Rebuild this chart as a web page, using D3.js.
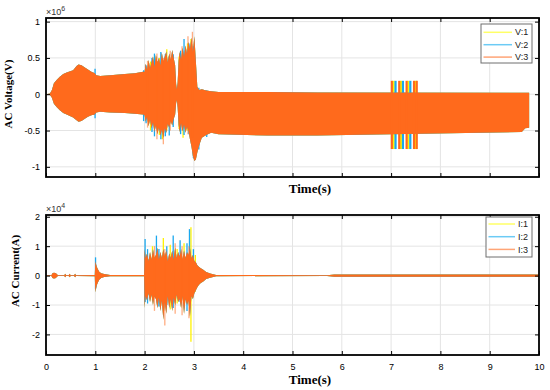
<!DOCTYPE html>
<html>
<head>
<meta charset="utf-8">
<script src="https://cdn.jsdelivr.net/npm/d3@7"></script>
<style>
  body { margin: 0; background: #fff; }
  svg { display: block; }
</style>
</head>
<body>
<div id="chart"></div>
<script>
// ---------- data (voltage in 1e6 V, current in 1e4 A) ----------
const xTicks = [0, 1, 2, 3, 4, 5, 6, 7, 8, 9, 10];
const vTicks = [-1, -0.5, 0, 0.5, 1];
const iTicks = [-2, -1, 0, 1, 2];
const vNames = ["V:1", "V:2", "V:3"];
const iNames = ["I:1", "I:2", "I:3"];

// voltage envelope shared by the three phases
const vBandT = [0, 0.08, 0.12, 0.16, 0.22, 0.28, 0.35, 0.42, 0.55, 0.62, 0.66, 0.72, 0.78, 0.85, 0.92, 0.99, 1.02, 1.1, 1.3, 1.6, 1.8, 1.97,
  2.00, 2.02, 2.05, 2.08, 2.11, 2.14, 2.17, 2.20, 2.23, 2.26, 2.29, 2.32, 2.35, 2.38, 2.41, 2.44, 2.47, 2.50, 2.53, 2.56, 2.59, 2.62, 2.64,
  2.655, 2.67, 2.69, 2.71, 2.74, 2.77, 2.80, 2.83, 2.86, 2.89, 2.92, 2.95, 2.98, 3.01, 3.04, 3.07, 3.11, 3.16, 3.25, 3.35, 3.5,
  4.5, 5.5, 9.65, 9.72, 9.8, 10];
const vBandHi = [0, 0.01, 0.06, 0.15, 0.2, 0.24, 0.28, 0.3, 0.33, 0.39, 0.41, 0.4, 0.37, 0.34, 0.31, 0.29, 0.26, 0.25, 0.26, 0.28, 0.29, 0.31,
  0.31, 0.42, 0.33, 0.47, 0.36, 0.44, 0.52, 0.38, 0.54, 0.44, 0.50, 0.40, 0.57, 0.45, 0.52, 0.59, 0.44, 0.56, 0.47, 0.61, 0.50, 0.40, 0.14,
  0.07, 0.16, 0.45, 0.58, 0.48, 0.64, 0.52, 0.67, 0.56, 0.72, 0.62, 0.78, 0.58, 0.80, 0.45, 0.10, 0.06, 0.07, 0.05, 0.04, 0.03, 0.03,
  0.025, 0.02, 0.02, 0.02, 0.02, 0.02];
const vBandLo = [0, -0.01, -0.05, -0.13, -0.18, -0.22, -0.26, -0.28, -0.32, -0.36, -0.38, -0.37, -0.34, -0.31, -0.29, -0.28, -0.25, -0.24, -0.25, -0.26, -0.27, -0.28,
  -0.29, -0.38, -0.31, -0.44, -0.35, -0.47, -0.39, -0.52, -0.43, -0.55, -0.46, -0.57, -0.49, -0.60, -0.47, -0.53, -0.41, -0.46, -0.37, -0.43, -0.34, -0.28, -0.12,
  -0.08, -0.18, -0.42, -0.52, -0.40, -0.51, -0.42, -0.53, -0.45, -0.50, -0.62, -0.72, -0.85, -0.92, -0.90, -0.80, -0.70, -0.60, -0.56, -0.53,
  -0.55, -0.57, -0.57, -0.52, -0.47, -0.46];

// individual voltage peaks [t, max, min]
const v1Spikes = [[2.12, 0.45, -0.50], [2.30, 0.50, -0.56], [2.36, 0.48, -0.62], [2.45, 0.62, -0.50], [2.70, 0.52, -0.48],
  [2.78, 0.55, -0.60], [2.87, 0.70, -0.50], [2.94, 0.76, -0.60]];
const v2Spikes = [[0.995, 0.35, -0.33], [1.98, 0.33, -0.37], [2.03, 0.40, -0.40], [2.15, 0.50, -0.52], [2.20, 0.56, -0.58],
  [2.33, 0.58, -0.62], [2.42, 0.55, -0.58], [2.50, 0.52, -0.57], [2.58, 0.55, -0.45], [2.73, 0.60, -0.55], [2.80, 0.76, -0.56],
  [2.90, 0.70, -0.55], [2.99, 0.66, -0.88], [3.10, 0.09, -0.76], [3.26, 0.05, -0.59]];
const v3Spikes = [[2.06, 0.46, -0.46], [2.25, 0.56, -0.62], [2.38, 0.50, -0.69], [2.52, 0.60, -0.50], [2.76, 0.66, -0.50],
  [2.88, 0.80, -0.55], [2.97, 0.86, -0.60]];

// fault window 7.0 s - 7.5 s
const vWindowHi = 0.185, vWindowLo = -0.755;
const v1WindowT = [7.05, 7.20, 7.35, 7.50];
const v2WindowT = [7.09, 7.24, 7.39];
const v3WindowT = [7.015, 7.165, 7.315, 7.465, 7.52];

// current envelope shared by the three phases
const iBandT = [0, 0.11, 0.13, 0.16, 0.19, 0.22, 0.24, 0.37, 0.39, 0.41, 0.46, 0.48, 0.50, 0.57, 0.59, 0.61, 0.99, 1.00, 1.01, 1.03, 1.05, 1.08, 1.12, 1.18, 1.3, 1.99,
  2.00, 2.02, 2.05, 2.08, 2.11, 2.14, 2.17, 2.20, 2.23, 2.26, 2.29, 2.32, 2.35, 2.38, 2.41, 2.44, 2.47, 2.50, 2.53, 2.56, 2.59, 2.62, 2.65,
  2.68, 2.71, 2.74, 2.77, 2.80, 2.83, 2.86, 2.89, 2.92, 2.95, 2.98, 3.01, 3.04, 3.07, 3.10, 3.14, 3.19, 3.25, 3.33, 3.45,
  5.7, 5.85, 10];
const iBandHi = [0.015, 0.015, 0.08, 0.1, 0.09, 0.05, 0.015, 0.015, 0.06, 0.015, 0.015, 0.06, 0.015, 0.015, 0.06, 0.015, 0.02, 0.50, 0.42, 0.30, 0.22, 0.13, 0.08, 0.05, 0.02, 0.02,
  0.90, 0.60, 0.75, 0.50, 0.80, 0.55, 0.90, 0.60, 0.70, 0.95, 0.55, 0.80, 0.60, 0.90, 0.65, 0.85, 0.50, 0.75, 0.60, 0.85, 0.55, 0.95, 0.60,
  0.80, 0.65, 0.90, 0.55, 0.85, 0.60, 0.80, 0.70, 0.95, 0.60, 0.70, 0.50, 0.45, 0.35, 0.30, 0.25, 0.20, 0.12, 0.07, 0.02,
  0.015, 0.04, 0.04];
const iBandLo = [-0.015, -0.015, -0.08, -0.1, -0.09, -0.05, -0.015, -0.015, -0.06, -0.015, -0.015, -0.06, -0.015, -0.015, -0.06, -0.015, -0.02, -0.57, -0.48, -0.33, -0.24, -0.14, -0.08, -0.05, -0.02, -0.02,
  -1.10, -0.70, -0.85, -0.60, -0.90, -0.65, -1.00, -0.70, -0.80, -1.10, -0.75, -1.20, -0.85, -1.50, -0.90, -1.30, -0.70, -1.10, -0.80, -1.20, -0.75, -1.00, -0.65,
  -0.90, -0.80, -1.10, -0.70, -1.30, -0.80, -1.00, -0.85, -1.40, -0.70, -0.80, -0.60, -0.50, -0.40, -0.32, -0.25, -0.20, -0.12, -0.07, -0.02,
  -0.015, -0.04, -0.04];

const i1Spikes = [[2.16, 1.00, -0.85], [2.38, 1.28, -0.80], [2.52, 1.05, -1.15], [2.66, 0.90, -0.95], [2.80, 1.10, -1.00], [2.94, 1.64, -2.25], [3.03, 0.70, -0.55]];
const i2Spikes = [[1.005, 0.62, -0.45], [2.01, 1.24, -0.90], [2.06, 0.90, -0.95], [2.24, 1.36, -0.80], [2.29, 0.90, -1.05], [2.45, 1.00, -1.00],
  [2.58, 1.36, -1.10], [2.72, 1.20, -0.90], [2.86, 1.10, -1.20], [2.91, 1.58, -0.90], [2.99, 0.90, -0.60]];
const i3Spikes = [[2.20, 1.00, -1.20], [2.41, 0.90, -1.70], [2.62, 1.10, -1.30], [2.76, 1.00, -1.35], [2.90, 1.00, -1.45]];

// ---------- style ----------
const phaseColors = ["#FFF200", "#1BA8EE", "#FF6A1C"];
const legendColors = ["#FFFF66", "#6CCBF5", "#FFA577"];
const gridColor = "#e4e4e4";
const tickFont = "'Liberation Sans', Arial, sans-serif";
const titleFont = "'Liberation Serif', 'Times New Roman', serif";

const width = 550, height = 390;
const svg = d3.select("#chart").append("svg")
  .attr("width", width)
  .attr("height", height);

function drawPanel(p) {
  const g = svg.append("g");
  const x = d3.scaleLinear().domain([0, 10]).range([p.left, p.right]);
  const y = d3.scaleLinear().domain(p.domain).range([p.bottom, p.top]);

  // grid
  g.append("g").selectAll("line").data(xTicks).join("line")
    .attr("x1", d => x(d)).attr("x2", d => x(d))
    .attr("y1", p.top).attr("y2", p.bottom)
    .attr("stroke", gridColor);
  g.append("g").selectAll("line").data(p.yTicks).join("line")
    .attr("x1", p.left).attr("x2", p.right)
    .attr("y1", d => y(d)).attr("y2", d => y(d))
    .attr("stroke", gridColor);

  g.append("clipPath").attr("id", p.id)
    .append("rect")
    .attr("x", p.left).attr("y", p.top)
    .attr("width", p.right - p.left).attr("height", p.bottom - p.top);
  const plot = g.append("g").attr("clip-path", `url(#${p.id})`);

  const area = d3.area()
    .x(d => x(d[0]))
    .y0(d => y(d[2]))
    .y1(d => y(d[1]));
  const band = d3.zip(p.bandT, p.bandHi, p.bandLo);

  p.phases.forEach((ph, k) => {
    plot.append("path")
      .datum(band)
      .attr("d", area)
      .attr("fill", phaseColors[k]);
    plot.append("g").selectAll("line").data(ph.spikes).join("line")
      .attr("x1", d => x(d[0])).attr("x2", d => x(d[0]))
      .attr("y1", d => y(d[1])).attr("y2", d => y(d[2]))
      .attr("stroke", phaseColors[k])
      .attr("stroke-width", 1.3)
      .attr("stroke-opacity", k === 2 ? 0.55 : 1);
    if (ph.windowT) {
      plot.append("g").selectAll("line").data(ph.windowT).join("line")
        .attr("x1", d => x(d)).attr("x2", d => x(d))
        .attr("y1", y(p.windowHi)).attr("y2", y(p.windowLo))
        .attr("stroke", phaseColors[k])
        .attr("stroke-width", 2.2);
    }
  });

  // ticks (inward, mirrored)
  const styleAxis = sel => {
    sel.select(".domain").remove();
    sel.selectAll("line").attr("stroke", "#000");
    sel.selectAll("text").attr("fill", "#000")
      .style("font-family", tickFont).style("font-size", "9px");
  };
  g.append("g").attr("transform", `translate(0,${p.bottom})`)
    .call(d3.axisBottom(x).tickValues(xTicks).tickSize(-4).tickPadding(9)
      .tickFormat(p.xLabels ? d => String(d) : () => ""))
    .call(styleAxis);
  g.append("g").attr("transform", `translate(0,${p.top})`)
    .call(d3.axisTop(x).tickValues(xTicks).tickSize(-4).tickFormat(() => ""))
    .call(styleAxis);
  g.append("g").attr("transform", `translate(${p.left},0)`)
    .call(d3.axisLeft(y).tickValues(p.yTicks).tickSize(-4).tickPadding(6)
      .tickFormat(d => String(d)))
    .call(styleAxis);
  g.append("g").attr("transform", `translate(${p.right},0)`)
    .call(d3.axisRight(y).tickValues(p.yTicks).tickSize(-4).tickFormat(() => ""))
    .call(styleAxis);

  // box
  g.append("rect")
    .attr("x", p.left).attr("y", p.top)
    .attr("width", p.right - p.left).attr("height", p.bottom - p.top)
    .attr("fill", "none").attr("stroke", "#000").attr("stroke-width", 1.8);

  // exponent
  const ex = g.append("text")
    .attr("x", p.left).attr("y", p.top - 3)
    .attr("fill", "#333")
    .style("font-family", tickFont).style("font-size", "9px");
  ex.append("tspan").text("×10");
  ex.append("tspan").attr("dy", -4).style("font-size", "7px").text(p.exponent);

  // axis titles
  g.append("text")
    .attr("x", 310).attr("y", p.xTitleY)
    .attr("text-anchor", "middle")
    .style("font-family", titleFont).style("font-weight", "bold").style("font-size", "13px")
    .text("Time(s)");
  g.append("text")
    .attr("transform", `translate(${p.yTitleX},${p.yTitleY}) rotate(-90)`)
    .attr("text-anchor", "middle")
    .style("font-family", titleFont).style("font-weight", "bold").style("font-size", "11px")
    .text(p.yTitle);

  // legend
  const L = p.legend;
  const lg = g.append("g").attr("transform", `translate(${L.x},${L.y})`);
  lg.append("rect")
    .attr("width", L.w).attr("height", L.h)
    .attr("fill", "#fff").attr("stroke", "#6e6e6e").attr("stroke-width", 1);
  const row = lg.selectAll("g.row").data(p.names).join("g")
    .attr("class", "row")
    .attr("transform", (d, i) => `translate(0,${L.first + i * L.step})`);
  row.append("line")
    .attr("x1", 2.5).attr("x2", L.lineEnd)
    .attr("stroke", (d, i) => legendColors[i]).attr("stroke-width", 1.5);
  row.append("text")
    .attr("x", L.lineEnd + 3).attr("dy", "0.35em")
    .attr("fill", "#222")
    .style("font-family", tickFont).style("font-size", "9px")
    .text(d => d);
}

drawPanel({
  id: "clipV", left: 46, right: 539, top: 18, bottom: 177,
  domain: [-1.14, 1.05], yTicks: vTicks, xLabels: false,
  bandT: vBandT, bandHi: vBandHi, bandLo: vBandLo,
  windowHi: vWindowHi, windowLo: vWindowLo,
  phases: [
    { spikes: v1Spikes, windowT: v1WindowT },
    { spikes: v2Spikes, windowT: v2WindowT },
    { spikes: v3Spikes, windowT: v3WindowT }
  ],
  names: vNames, exponent: "6",
  xTitleY: 193, yTitle: "AC Voltage(V)", yTitleX: 12, yTitleY: 94,
  legend: { x: 481, y: 24, w: 51, h: 39, first: 8.3, step: 12.4, lineEnd: 31 }
});

drawPanel({
  id: "clipI", left: 46, right: 539, top: 215, bottom: 355,
  domain: [-2.7, 2.06], yTicks: iTicks, xLabels: true,
  bandT: iBandT, bandHi: iBandHi, bandLo: iBandLo,
  phases: [
    { spikes: i1Spikes },
    { spikes: i2Spikes },
    { spikes: i3Spikes }
  ],
  names: iNames, exponent: "4",
  xTitleY: 384, yTitle: "AC Current(A)", yTitleX: 19, yTitleY: 271,
  legend: { x: 486, y: 217, w: 46, h: 40, first: 7, step: 12.7, lineEnd: 29 }
});
</script>
</body>
</html>
